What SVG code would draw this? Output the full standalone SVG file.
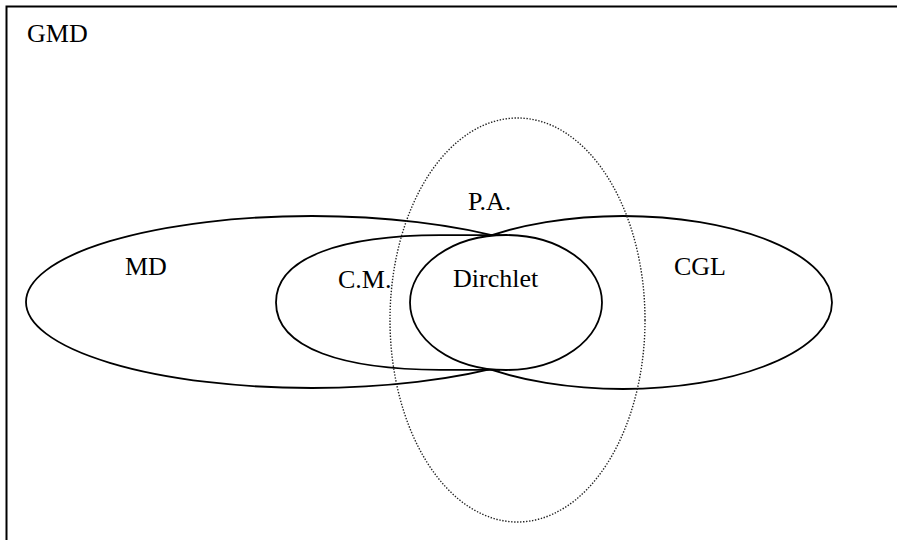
<svg xmlns="http://www.w3.org/2000/svg" width="897" height="540" viewBox="0 0 897 540">
<style>
.set{fill:none;stroke:#000;stroke-width:1.8}
.pa{fill:none;stroke:#222;stroke-width:1.4;stroke-dasharray:1.4 1.6}
text{font-family:"Liberation Serif","Times New Roman",serif;font-size:26px;fill:#000}
</style>
<rect width="897" height="540" fill="#fff"/>
<g id="GMD">
<path d="M6.5 545 V6.5 H900" fill="none" stroke="#000" stroke-width="2"/>
<text x="27" y="42">GMD</text>
</g>
<g id="MD">
<ellipse class="set" cx="312" cy="302" rx="286" ry="86"/>
<text x="125" y="275">MD</text>
</g>
<g id="CGL">
<ellipse class="set" cx="623" cy="302.5" rx="209" ry="86.5"/>
<text x="674" y="275">CGL</text>
</g>
<g id="CM">
<path class="set" d="M500 235.2 H440 C345 235.5 276 256 276 302.5 C276 349 345 369.5 440 369.8 H500"/>
<text x="338" y="288">C.M.</text>
</g>
<g id="Dirchlet">
<ellipse class="set" fill="#fff" style="fill:#fff" cx="506" cy="302.5" rx="96" ry="67.5"/>
<text x="453" y="287">Dirchlet</text>
</g>
<g id="PA">
<ellipse class="pa" cx="517.5" cy="320" rx="127.5" ry="202"/>
<text x="468" y="210">P.A.</text>
</g>
<g id="connectors"></g>
</svg>
